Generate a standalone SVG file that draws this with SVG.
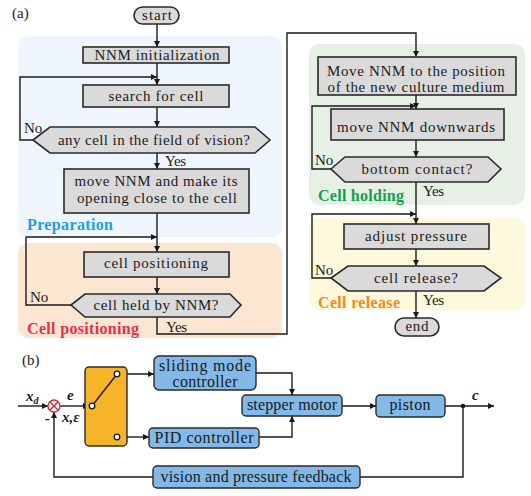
<svg xmlns="http://www.w3.org/2000/svg" width="531" height="496" viewBox="0 0 531 496">
<defs>
<style>
.t{font-size:15px;fill:#1a1a1a;text-anchor:middle}
.tl{font-size:15px;fill:#1a1a1a}
.tb{font-size:16px;fill:#1a1a1a;text-anchor:middle}
.lab{font-size:16px;font-weight:bold}
.var{font-size:15px;font-weight:bold;font-style:italic;fill:#1a1a1a}
.box{fill:#dadada;stroke:#2a2a2a;stroke-width:1.6}
.bbox{fill:#82b9e9;stroke:#2a2a2a;stroke-width:1.4}
.ln{fill:none;stroke:#1a1a1a;stroke-width:1.4}
</style>
<marker id="ah" viewBox="0 0 10 10" refX="10" refY="5" markerWidth="8" markerHeight="6" markerUnits="userSpaceOnUse" orient="auto">
<path d="M0,0 L10,5 L0,10 z" fill="#1a1a1a"/>
</marker>
</defs>
<rect width="531" height="496" fill="#ffffff"/>

<g id="regions">
<rect x="18" y="36" width="264" height="201" rx="10" fill="#eef5fc"/>
<rect x="18" y="243" width="264" height="95" rx="10" fill="#fbe7d1"/>
<rect x="309" y="44" width="216" height="161" rx="10" fill="#e6f0e5"/>
<rect x="309" y="218" width="216" height="92" rx="10" fill="#fdf9dd"/>
<text font-family="Liberation Serif" class="lab" x="27" y="230" fill="#1d9ee6" textLength="86">Preparation</text>
<text font-family="Liberation Serif" class="lab" x="27" y="334" fill="#e6304c" textLength="112">Cell positioning</text>
<text font-family="Liberation Serif" class="lab" x="318" y="201" fill="#13a052" textLength="86">Cell holding</text>
<text font-family="Liberation Serif" class="lab" x="318" y="308" fill="#f28a1e" textLength="82">Cell release</text>
</g>

<text font-family="Liberation Serif" class="tl" x="12" y="18" font-size="16">(a)</text>
<text font-family="Liberation Serif" class="tl" x="22" y="365" font-size="16">(b)</text>

<g id="connectors">
<path class="ln" d="M157,24 V47" marker-end="url(#ah)"/>
<path class="ln" d="M157,63 V85" marker-end="url(#ah)"/>
<path class="ln" d="M33,140 H20 V77 H157" marker-end="url(#ah)"/>
<path class="ln" d="M157,107 V127" marker-end="url(#ah)"/>
<path class="ln" d="M157,153 V169" marker-end="url(#ah)"/>
<path class="ln" d="M157,213 V252" marker-end="url(#ah)"/>
<path class="ln" d="M71,305 H26 V237 H157" marker-end="url(#ah)"/>
<path class="ln" d="M157,277 V294" marker-end="url(#ah)"/>
<path class="ln" d="M157,317 V334 H287 V33 H416 V57" marker-end="url(#ah)"/>
<path class="ln" d="M416,95 V109" marker-end="url(#ah)"/>
<path class="ln" d="M331,169 H312 V106 H416" marker-end="url(#ah)"/>
<path class="ln" d="M416,140 V157" marker-end="url(#ah)"/>
<path class="ln" d="M416,182 V224" marker-end="url(#ah)"/>
<path class="ln" d="M331,278 H312 V214 H416" marker-end="url(#ah)"/>
<path class="ln" d="M416,249 V266" marker-end="url(#ah)"/>
<path class="ln" d="M416,291 V318" marker-end="url(#ah)"/>
<text font-family="Liberation Serif" class="tl" x="165" y="166" textLength="21">Yes</text>
<text font-family="Liberation Serif" class="tl" x="24" y="133">No</text>
<text font-family="Liberation Serif" class="tl" x="30" y="302">No</text>
<text font-family="Liberation Serif" class="tl" x="166" y="332" textLength="21">Yes</text>
<text font-family="Liberation Serif" class="tl" x="315" y="165">No</text>
<text font-family="Liberation Serif" class="tl" x="423" y="196" textLength="21">Yes</text>
<text font-family="Liberation Serif" class="tl" x="315" y="275">No</text>
<text font-family="Liberation Serif" class="tl" x="423" y="305" textLength="21">Yes</text>

<path class="ln" d="M18,406 H48" marker-end="url(#ah)"/>
<path class="ln" d="M60,406 H89" marker-end="url(#ah)"/>
<path class="ln" d="M120,374 H154" marker-end="url(#ah)"/>
<path class="ln" d="M120,437 H149" marker-end="url(#ah)"/>
<path class="ln" d="M256,373 H292 V395" marker-end="url(#ah)"/>
<path class="ln" d="M259,437 H292 V416" marker-end="url(#ah)"/>
<path class="ln" d="M342,406 H376" marker-end="url(#ah)"/>
<path class="ln" d="M445,406 H494" marker-end="url(#ah)"/>
<path class="ln" d="M463,406 V477 H360"/>
<path class="ln" d="M153,477 H54 V412" marker-end="url(#ah)"/>
<circle cx="463" cy="406" r="2.3" fill="#1a1a1a"/>
<text font-family="Liberation Serif" class="var" x="26" y="401">x<tspan font-size="10" dy="3">d</tspan></text>
<text font-family="Liberation Serif" class="var" x="67" y="400">e</text>
<text font-family="Liberation Serif" class="var" x="62" y="422">x,ε</text>
<text font-family="Liberation Serif" class="var" x="45" y="423">-</text>
<text font-family="Liberation Serif" class="var" x="472" y="400">c</text>
</g>

<g id="start">
<rect x="134" y="7" width="45" height="17" rx="8.5" class="box"/>
<text font-family="Liberation Serif" class="t" x="157" y="20" textLength="30">start</text>
</g>
<g id="init">
<rect x="83" y="47" width="146" height="16" class="box"/>
<text font-family="Liberation Serif" class="t" x="157" y="60" textLength="125">NNM initialization</text>
</g>
<g id="search">
<rect x="83" y="85" width="146" height="22" class="box"/>
<text font-family="Liberation Serif" class="t" x="156" y="101" textLength="95">search for cell</text>
</g>
<g id="vision">
<polygon points="33,140 50,127 255,127 270,140 255,153 50,153" class="box"/>
<text font-family="Liberation Serif" class="t" x="154" y="145" textLength="192">any cell in the field of vision?</text>
</g>
<g id="moveclose">
<rect x="64" y="169" width="185" height="44" class="box"/>
<text font-family="Liberation Serif" class="t" x="156" y="186" textLength="163">move NNM and make its</text>
<text font-family="Liberation Serif" class="t" x="157" y="203" textLength="160">opening close to the cell</text>
</g>
<g id="positioning">
<rect x="84" y="252" width="145" height="25" class="box"/>
<text font-family="Liberation Serif" class="t" x="156" y="268" textLength="104">cell positioning</text>
</g>
<g id="held">
<polygon points="71,305 85,294 230,294 241,305 230,317 85,317" class="box"/>
<text font-family="Liberation Serif" class="t" x="156" y="310" textLength="125">cell held by NNM?</text>
</g>
<g id="movemedium">
<rect x="318" y="57" width="198" height="38" class="box"/>
<text font-family="Liberation Serif" class="t" x="416" y="76" textLength="178">Move NNM to the position</text>
<text font-family="Liberation Serif" class="t" x="416" y="92" textLength="177">of the new culture medium</text>
</g>
<g id="down">
<rect x="331" y="109" width="173" height="31" class="box"/>
<text font-family="Liberation Serif" class="t" x="416" y="132" textLength="158">move NNM downwards</text>
</g>
<g id="bottom">
<polygon points="331,169 345,157 488,157 501,169 488,182 345,182" class="box"/>
<text font-family="Liberation Serif" class="t" x="417" y="174" textLength="111">bottom contact?</text>
</g>
<g id="adjust">
<rect x="344" y="224" width="145" height="25" class="box"/>
<text font-family="Liberation Serif" class="t" x="416" y="241" textLength="102">adjust pressure</text>
</g>
<g id="release">
<polygon points="331,278 348,266 484,266 501,278 484,291 348,291" class="box"/>
<text font-family="Liberation Serif" class="t" x="416" y="283" textLength="84">cell release?</text>
</g>
<g id="end">
<rect x="395" y="318" width="44" height="18" rx="9" class="box"/>
<text font-family="Liberation Serif" class="t" x="417" y="331" textLength="23">end</text>
</g>

<g id="sum">
<circle cx="54" cy="406" r="6" fill="#ffffff" stroke="#c8303f" stroke-width="1.4"/>
<path d="M49.8,401.8 L58.2,410.2 M58.2,401.8 L49.8,410.2" stroke="#c8303f" stroke-width="1.4"/>
</g>
<g id="switch">
<rect x="85" y="367" width="42" height="79" rx="4" fill="#f6b42a" stroke="#2a2a2a" stroke-width="1.4"/>
<line x1="93.5" y1="404" x2="115.5" y2="376" stroke="#1a1a1a" stroke-width="1.4"/>
<circle cx="92" cy="406" r="2.8" fill="#ffffff" stroke="#1a1a1a" stroke-width="1.3"/>
<circle cx="117" cy="374" r="2.8" fill="#ffffff" stroke="#1a1a1a" stroke-width="1.3"/>
<circle cx="117" cy="437" r="2.8" fill="#ffffff" stroke="#1a1a1a" stroke-width="1.3"/>
</g>
<g id="smc">
<rect x="154" y="356" width="102" height="34" rx="5" class="bbox"/>
<text font-family="Liberation Serif" class="tb" x="205" y="371" textLength="92">sliding mode</text>
<text font-family="Liberation Serif" class="tb" x="205" y="387" textLength="65">controller</text>
</g>
<g id="pid">
<rect x="149" y="428" width="110" height="20" rx="4" class="bbox"/>
<text font-family="Liberation Serif" class="tb" x="204" y="443" textLength="99">PID controller</text>
</g>
<g id="stepper">
<rect x="242" y="395" width="100" height="21" rx="4" class="bbox"/>
<text font-family="Liberation Serif" class="tb" x="292" y="410" textLength="90">stepper motor</text>
</g>
<g id="piston">
<rect x="376" y="395" width="69" height="22" rx="4" class="bbox"/>
<text font-family="Liberation Serif" class="tb" x="410" y="410" textLength="41">piston</text>
</g>
<g id="feedback">
<rect x="153" y="466" width="207" height="22" rx="4" class="bbox"/>
<text font-family="Liberation Serif" class="tb" x="256" y="482" textLength="191">vision and pressure feedback</text>
</g>
</svg>
